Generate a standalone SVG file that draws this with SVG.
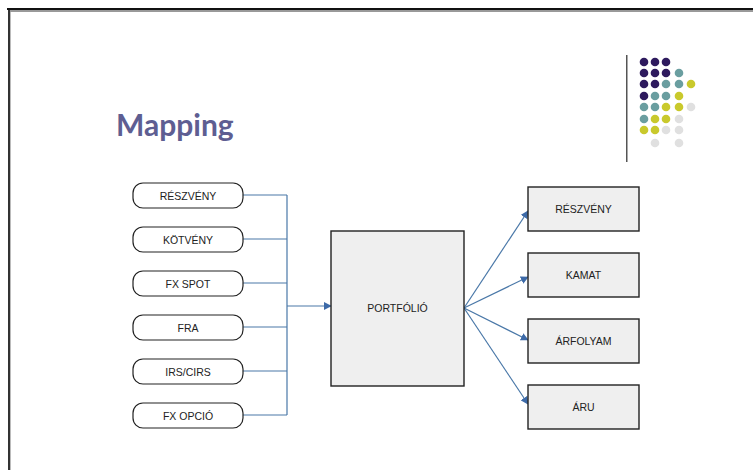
<svg xmlns="http://www.w3.org/2000/svg" width="753" height="470" viewBox="0 0 753 470">
<style>
.pill{fill:#fff;stroke:#222;stroke-width:1.2}
.box{fill:#efefef;stroke:#222;stroke-width:1.4}
.t{font-family:"Liberation Sans",Arial,sans-serif;font-size:10.5px;fill:#222;text-anchor:middle;dominant-baseline:central}
.c{fill:none;stroke:#4a78a8;stroke-width:1.2}
.p{fill:#2e1a5e}.g{fill:#6a9ea0}.y{fill:#c9c92c}.l{fill:#e0e0e0}
</style>
<defs>
<marker id="ah" viewBox="0 0 10 10" refX="9" refY="5" markerWidth="8" markerHeight="8" markerUnits="userSpaceOnUse" orient="auto">
<path d="M0,0 L10,5 L0,10 z" fill="#3d6aa8"/>
</marker>
</defs>
<rect width="753" height="470" fill="#fff"/>
<g id="frame">
<rect x="7" y="8" width="746" height="2" fill="#111"/>
<rect x="9" y="10" width="744" height="2" fill="#999"/>
<rect x="8" y="10" width="2" height="460" fill="#333"/>
<rect x="10" y="12" width="1" height="458" fill="#bbb"/>
</g>
<g id="logo">
<rect x="626" y="55" width="1.5" height="107" fill="#555"/>
<circle class="p" cx="644" cy="62" r="4.3"/><circle class="p" cx="655" cy="62" r="4.3"/><circle class="p" cx="666" cy="62" r="4.3"/>
<circle class="p" cx="644" cy="73" r="4.3"/><circle class="p" cx="655" cy="73" r="4.3"/><circle class="p" cx="666" cy="73" r="4.3"/><circle class="g" cx="679" cy="73" r="4.3"/>
<circle class="p" cx="644" cy="84" r="4.3"/><circle class="p" cx="655" cy="84" r="4.3"/><circle class="g" cx="666" cy="84" r="4.3"/><circle class="g" cx="679" cy="84" r="4.3"/><circle class="y" cx="691" cy="84" r="4.3"/>
<circle class="p" cx="644" cy="96" r="4.3"/><circle class="g" cx="655" cy="96" r="4.3"/><circle class="g" cx="666" cy="96" r="4.3"/><circle class="y" cx="679" cy="96" r="4.3"/>
<circle class="g" cx="644" cy="107" r="4.3"/><circle class="g" cx="655" cy="107" r="4.3"/><circle class="y" cx="666" cy="107" r="4.3"/><circle class="y" cx="679" cy="107" r="4.3"/><circle class="l" cx="691" cy="107" r="4.3"/>
<circle class="g" cx="644" cy="119" r="4.3"/><circle class="y" cx="655" cy="119" r="4.3"/><circle class="y" cx="666" cy="119" r="4.3"/><circle class="l" cx="679" cy="119" r="4.3"/>
<circle class="y" cx="644" cy="130" r="4.3"/><circle class="y" cx="655" cy="130" r="4.3"/><circle class="l" cx="666" cy="130" r="4.3"/><circle class="l" cx="679" cy="130" r="4.3"/>
<circle class="l" cx="655" cy="143" r="4.3"/><circle class="l" cx="679" cy="143" r="4.3"/>
</g>
<text id="title" x="116" y="136" font-family="Lato,'Open Sans',sans-serif" font-weight="bold" font-size="30" fill="#5e5e92">Mapping</text>
<g id="connectors">
<path class="c" d="M243,195 H287 M243,239 H287 M243,283 H287 M243,327 H287 M243,371 H287 M243,415 H287 M287,195 V415"/>
<path class="c" d="M287,306 H331" marker-end="url(#ah)"/>
<path class="c" d="M464,308 L528,211" marker-end="url(#ah)"/>
<path class="c" d="M464,308 L528,277" marker-end="url(#ah)"/>
<path class="c" d="M464,308 L528,340" marker-end="url(#ah)"/>
<path class="c" d="M464,308 L528,404" marker-end="url(#ah)"/>
</g>
<g id="in1"><rect class="pill" x="133" y="183" width="110" height="25" rx="10"/><text class="t" x="188" y="195.5">RÉSZVÉNY</text></g>
<g id="in2"><rect class="pill" x="133" y="227" width="110" height="25" rx="10"/><text class="t" x="188" y="239.5">KÖTVÉNY</text></g>
<g id="in3"><rect class="pill" x="133" y="271" width="110" height="25" rx="10"/><text class="t" x="188" y="283.5">FX SPOT</text></g>
<g id="in4"><rect class="pill" x="133" y="315" width="110" height="25" rx="10"/><text class="t" x="188" y="327.5">FRA</text></g>
<g id="in5"><rect class="pill" x="133" y="359" width="110" height="25" rx="10"/><text class="t" x="188" y="371.5">IRS/CIRS</text></g>
<g id="in6"><rect class="pill" x="133" y="403" width="110" height="25" rx="10"/><text class="t" x="188" y="415.5">FX OPCIÓ</text></g>
<g id="portfolio"><rect class="box" x="331" y="231" width="133" height="155"/><text class="t" x="397.5" y="308">PORTFÓLIÓ</text></g>
<g id="out1"><rect class="box" x="528" y="187" width="111" height="44"/><text class="t" x="583.5" y="209">RÉSZVÉNY</text></g>
<g id="out2"><rect class="box" x="528" y="253" width="111" height="44"/><text class="t" x="583.5" y="275">KAMAT</text></g>
<g id="out3"><rect class="box" x="528" y="319" width="111" height="44"/><text class="t" x="583.5" y="341">ÁRFOLYAM</text></g>
<g id="out4"><rect class="box" x="528" y="385" width="111" height="44"/><text class="t" x="583.5" y="407">ÁRU</text></g>
</svg>
